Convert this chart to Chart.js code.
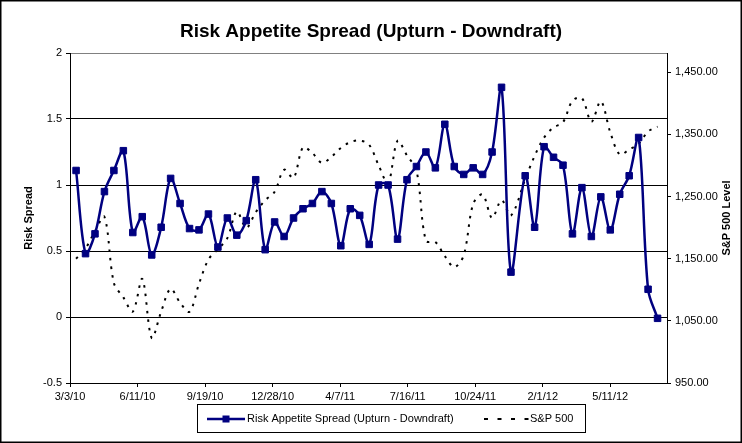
<!DOCTYPE html>
<html>
<head>
<meta charset="utf-8">
<title>Risk Appetite Spread</title>
<script src="https://cdn.jsdelivr.net/npm/chart.js@4.4.0/dist/chart.umd.min.js"></script>
<style>
  html, body { margin: 0; padding: 0; background: #fff; }
  #wrap { width: 742px; height: 443px; }
</style>
</head>
<body>
<div id="wrap"><canvas id="riskChart" width="742" height="443"></canvas></div>
<script>
//Datos ------------------------------------------------------------------------
const dates = [
  '3/12/10', '3/26/10', '4/9/10', '4/23/10', '5/7/10', '5/21/10', '6/4/10', '6/18/10',
  '7/2/10', '7/16/10', '7/30/10', '8/13/10', '8/27/10', '9/10/10', '9/24/10', '10/8/10',
  '10/22/10', '11/5/10', '11/19/10', '12/3/10', '12/17/10', '12/31/10',
  '1/14/11', '1/28/11', '2/11/11', '2/25/11', '3/11/11', '3/25/11', '4/8/11', '4/22/11',
  '5/6/11', '5/20/11', '6/3/11', '6/17/11', '7/1/11', '7/15/11', '7/29/11', '8/12/11',
  '8/26/11', '9/9/11', '9/23/11', '10/7/11', '10/21/11', '11/4/11', '11/18/11', '12/2/11',
  '12/16/11',
  '1/6/12', '1/20/12', '2/3/12', '2/17/12', '3/2/12', '3/16/12', '3/30/12', '4/13/12',
  '4/27/12', '5/11/12', '5/25/12', '6/8/12', '6/22/12', '7/6/12', '7/20/12'
];

const riskSpread = [
  1.11, 0.48, 0.63, 0.95, 1.11, 1.26, 0.64, 0.76, 0.47, 0.68, 1.05, 0.86, 0.67, 0.66,
  0.78, 0.53, 0.75, 0.62, 0.73, 1.04, 0.51, 0.72, 0.61, 0.75, 0.82, 0.86, 0.95, 0.86,
  0.54, 0.82, 0.77, 0.55, 1.00, 1.00, 0.59, 1.04, 1.14, 1.25, 1.13, 1.46, 1.14, 1.08,
  1.13, 1.08, 1.25, 1.74, 0.34, 1.07, 0.68, 1.29, 1.21, 1.15, 0.63, 0.98, 0.61, 0.91,
  0.66, 0.93, 1.07, 1.36, 0.21, -0.01
];

const sp500 = [
  1150.0, 1166.6, 1194.4, 1217.3, 1110.9, 1087.7, 1064.9, 1117.5, 1022.6, 1064.9,
  1101.6, 1079.3, 1064.6, 1109.6, 1148.7, 1165.2, 1183.1, 1225.9, 1199.7, 1224.7,
  1243.9, 1257.6, 1293.2, 1280.0, 1329.2, 1319.9, 1304.3, 1313.8, 1328.2, 1337.4,
  1340.2, 1333.3, 1300.2, 1271.5, 1339.7, 1316.1, 1292.3, 1178.8, 1176.8, 1154.2,
  1136.4, 1155.5, 1238.3, 1253.2, 1215.7, 1244.3, 1219.7, 1277.8, 1315.4, 1344.9,
  1361.2, 1369.6, 1404.2, 1408.5, 1370.3, 1403.4, 1353.4, 1317.8, 1325.7, 1335.0,
  1354.7, 1362.7
];

const xTickLabels = ['3/3/10', '6/11/10', '9/19/10', '12/28/10', '4/7/11', '7/16/11', '10/24/11', '2/1/12', '5/11/12'];
const spreadTicks = [-0.5, 0, 0.5, 1, 1.5, 2];
const spTicks = [950, 1050, 1150, 1250, 1350, 1450];

//Fechas a numero de dias desde el primer tick
function dayNum(s) {
  const [m, d, y] = s.split('/').map(Number);
  return Math.round((Date.UTC(2000 + y, m - 1, d) - Date.UTC(2010, 2, 3)) / 86400000);
}

const navy = '#000080';
const fontFam = "'Liberation Sans', Arial, sans-serif";
Chart.defaults.font.family = fontFam;
Chart.defaults.color = '#000';

//Plugin: titulo derecho, leyenda y borde ---------------------------------------
const extras = {
  id: 'extras',
  afterDraw(chart) {
    const ctx = chart.ctx;
    ctx.save();
    // titulo eje derecho
    ctx.font = 'bold 11px ' + fontFam;
    ctx.fillStyle = '#000';
    ctx.textAlign = 'center';
    ctx.textBaseline = 'middle';
    ctx.translate(727, (chart.chartArea.top + chart.chartArea.bottom) / 2);
    ctx.rotate(-Math.PI / 2);
    ctx.fillText('S&P 500 Level', 0, 0);
    ctx.restore();

    // leyenda
    ctx.save();
    ctx.strokeStyle = '#000';
    ctx.lineWidth = 1;
    ctx.strokeRect(197.5, 404.5, 388, 28);
    const ly = 419;
    ctx.strokeStyle = navy;
    ctx.lineWidth = 2.5;
    ctx.beginPath();
    ctx.moveTo(207, ly);
    ctx.lineTo(245, ly);
    ctx.stroke();
    ctx.fillStyle = navy;
    ctx.fillRect(222.5, ly - 3.5, 7, 7);
    ctx.strokeStyle = '#000';
    ctx.lineWidth = 2;
    ctx.setLineDash([4, 9.5]);
    ctx.beginPath();
    ctx.moveTo(484, ly);
    ctx.lineTo(530, ly);
    ctx.stroke();
    ctx.setLineDash([]);
    ctx.fillStyle = '#000';
    ctx.font = '11px ' + fontFam;
    ctx.textAlign = 'left';
    ctx.textBaseline = 'middle';
    ctx.fillText('Risk Appetite Spread (Upturn - Downdraft)', 247, ly);
    ctx.fillText('S&P 500', 530, ly);

    // borde del grafico
    ctx.strokeRect(0.5, 0.5, chart.width - 1, chart.height - 1);
    ctx.restore();
  }
};

const tickFont = { family: fontFam, size: 11 };

const riskChart = new Chart(document.getElementById('riskChart'), {
  type: 'line',
  data: {
    datasets: [{
      label: 'Risk Appetite Spread (Upturn - Downdraft)',
      data: dates.map((d, i) => ({ x: dayNum(d), y: riskSpread[i] })),
      yAxisID: 'y',
      borderColor: navy,
      backgroundColor: navy,
      borderWidth: 2.5,
      tension: 0.33,
      pointStyle: 'rect',
      pointRadius: 4.6,
      pointBorderWidth: 1,
      pointBackgroundColor: navy,
      pointBorderColor: navy
    }, {
      label: 'S&P 500',
      data: dates.map((d, i) => ({ x: dayNum(d), y: sp500[i] })),
      yAxisID: 'y2',
      borderColor: '#000',
      borderWidth: 2,
      borderDash: [2.5, 6],
      tension: 0.33,
      pointRadius: 0
    }]
  },
  options: {
    responsive: false,
    animation: false,
    events: [],
    layout: { padding: 0 },
    scales: {
      x: {
        type: 'linear',
        min: 0,
        max: 884,
        afterBuildTicks: s => { s.ticks = xTickLabels.map(l => ({ value: dayNum(l) })); },
        afterFit: s => { s.height = 60; },
        ticks: {
          callback: (v, i) => xTickLabels[i],
          autoSkip: false,
          maxRotation: 0,
          padding: 3,
          font: tickFont,
          color: '#000'
        },
        grid: { drawOnChartArea: false, tickLength: 4, tickColor: '#000' },
        border: { color: '#000', width: 1 }
      },
      y: {
        position: 'left',
        min: -0.5,
        max: 2,
        afterBuildTicks: s => { s.ticks = spreadTicks.map(v => ({ value: v })); },
        afterFit: s => { s.width = 70; },
        ticks: {
          callback: v => String(v),
          padding: 4,
          font: tickFont,
          color: '#000'
        },
        grid: {
          color: c => (c.tick && c.tick.value === 2) ? '#808080' : '#000',
          lineWidth: 1,
          tickLength: 4,
          tickColor: '#000'
        },
        border: { color: '#000', width: 1 },
        title: {
          display: true,
          text: 'Risk Spread',
          color: '#000',
          font: { family: fontFam, size: 11, weight: 'bold' },
          padding: { top: 22, bottom: 0 }
        }
      },
      y2: {
        position: 'right',
        min: 950,
        max: 1481,
        afterBuildTicks: s => { s.ticks = spTicks.map(v => ({ value: v })); },
        afterFit: s => { s.width = 75; },
        ticks: {
          callback: v => v.toFixed(2).replace(/\B(?=(\d{3})+\.)/, ','),
          padding: 4,
          font: tickFont,
          color: '#000'
        },
        grid: { drawOnChartArea: false, tickLength: 4, tickColor: '#000' },
        border: { color: '#000', width: 1 }
      }
    },
    plugins: {
      legend: { display: false },
      tooltip: { enabled: false },
      title: {
        display: true,
        text: 'Risk Appetite Spread (Upturn - Downdraft)',
        color: '#000',
        font: { family: fontFam, size: 19, weight: 'bold' },
        padding: { top: 20.6, bottom: 9.6 }
      }
    }
  },
  plugins: [extras]
});
</script>
</body>
</html>
